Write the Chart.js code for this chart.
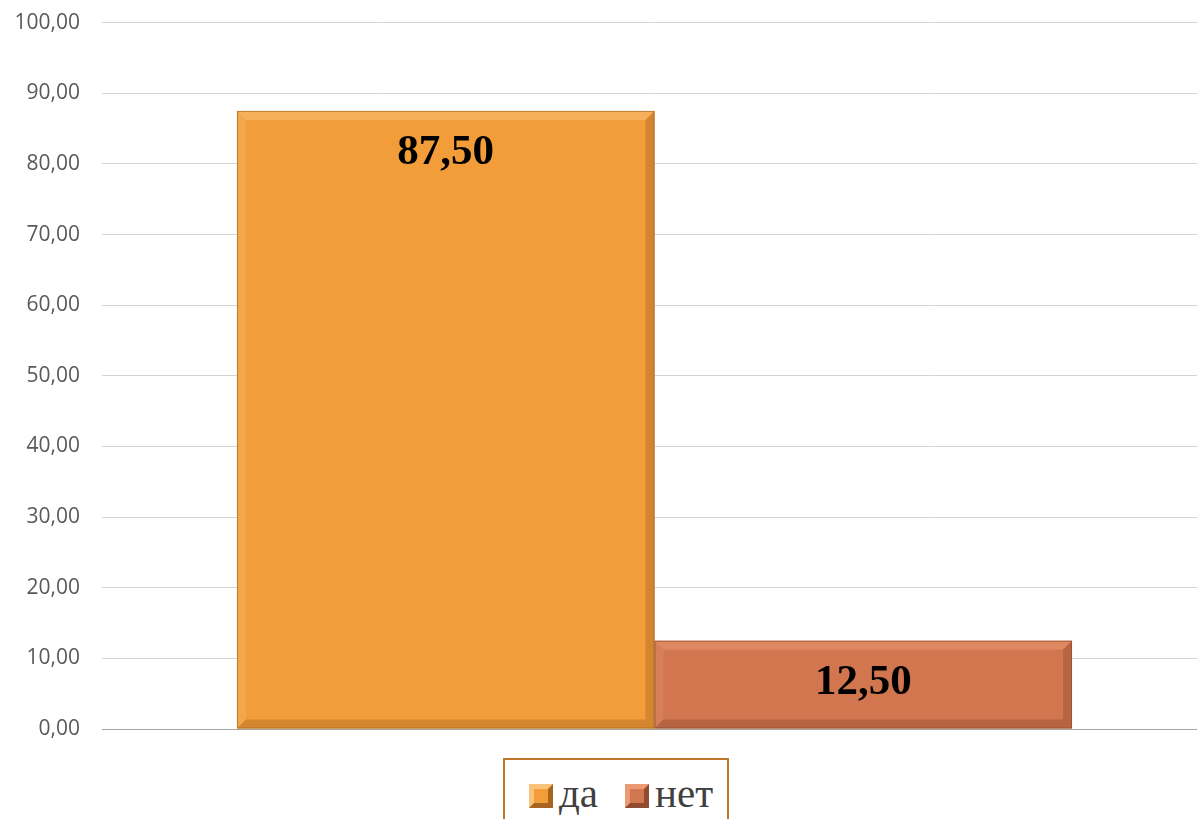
<!DOCTYPE html>
<html>
<head>
<meta charset="utf-8">
<script src="https://cdn.jsdelivr.net/npm/chart.js@4"></script>
<style>
  html, body { margin: 0; padding: 0; background: #fff; overflow: hidden; }
  #wrap { position: relative; width: 1197px; height: 819px; overflow: hidden; }
  #chart { position: absolute; left: 0; top: -12px; }
  #legend {
    position: absolute; left: 503px; top: 758px; width: 226px; height: 80px;
    border: 2px solid #c0772a; background: #fff; box-sizing: border-box;
    font-family: "Liberation Serif", serif; font-size: 41px; color: #404040;
  }
  .item { position: absolute; top: 10px; line-height: 46px; white-space: nowrap; }
  .mark {
    display: inline-block; width: 14px; height: 14px; border: 5px solid;
    vertical-align: -1px; margin-right: 6px;
  }
</style>
</head>
<body>
<div id="wrap">
  <canvas id="chart" width="1207" height="831"></canvas>
  <div id="legend"></div>
</div>
<script>
const categories = [""];
const seriesNames = ["да", "нет"];
const seriesValues = [87.5, 12.5];
const yTicks = [0, 10, 20, 30, 40, 50, 60, 70, 80, 90, 100];

const fills = ["#f29d3a", "#d1764f"];
const lights = ["#f9c37a", "#eb9a74"];
const darks = ["#a8651f", "#8f4c30"];

const fmt = (v) => v.toFixed(2).replace(".", ",");

// bevel + value labels
const bevelPlugin = {
  id: "bevel",
  afterDatasetsDraw(chart) {
    const ctx = chart.ctx;
    chart.data.datasets.forEach((ds, i) => {
      chart.getDatasetMeta(i).data.forEach((bar, j) => {
        const l = bar.x - bar.width / 2, r = bar.x + bar.width / 2;
        const t = bar.y, b = bar.base, s = 9;
        ctx.save();
        ctx.globalAlpha = 0.5;
        ctx.fillStyle = lights[i];
        ctx.beginPath();
        ctx.moveTo(l, t); ctx.lineTo(r, t); ctx.lineTo(r - s, t + s); ctx.lineTo(l + s, t + s);
        ctx.fill();
        ctx.globalAlpha = 0.25;
        ctx.beginPath();
        ctx.moveTo(l, t); ctx.lineTo(l + s, t + s); ctx.lineTo(l + s, b - s); ctx.lineTo(l, b);
        ctx.fill();
        ctx.globalAlpha = 0.4;
        ctx.fillStyle = darks[i];
        ctx.beginPath();
        ctx.moveTo(r, t); ctx.lineTo(r, b); ctx.lineTo(r - s, b - s); ctx.lineTo(r - s, t + s);
        ctx.fill();
        ctx.beginPath();
        ctx.moveTo(l, b); ctx.lineTo(r, b); ctx.lineTo(r - s, b - s); ctx.lineTo(l + s, b - s);
        ctx.fill();
        ctx.globalAlpha = 0.7;
        ctx.strokeStyle = darks[i];
        ctx.lineWidth = 1;
        ctx.strokeRect(l + 0.5, t + 0.5, r - l - 1, b - t - 1);
        ctx.restore();

        ctx.save();
        ctx.fillStyle = "#000";
        ctx.font = "bold 43px 'Liberation Serif', serif";
        ctx.textAlign = "center";
        ctx.textBaseline = "alphabetic";
        ctx.fillText(fmt(ds.data[j]), bar.x, t + 53);
        ctx.restore();
      });
    });
  }
};

const datasets = seriesNames.map((name, i) => ({
  label: name,
  data: [seriesValues[i]],
  backgroundColor: fills[i],
  borderWidth: 0,
  barPercentage: 1,
  categoryPercentage: 0.7557
}));

new Chart(document.getElementById("chart"), {
  type: "bar",
  data: { labels: categories, datasets },
  plugins: [bevelPlugin],
  options: {
    responsive: false,
    animation: false,
    layout: { padding: { top: 0, right: 0, bottom: 90, left: 0 } },
    plugins: { legend: { display: false }, tooltip: { enabled: false } },
    scales: {
      x: {
        ticks: { display: false },
        grid: { display: false, drawTicks: false },
        border: { color: "#a6a6a6", width: 1 },
        afterFit(scale) { scale.height = 0; }
      },
      y: {
        min: 0, max: 100,
        afterBuildTicks(scale) { scale.ticks = yTicks.map((v) => ({ value: v })); },
        afterFit(scale) { scale.width = 102; },
        ticks: {
          padding: 22,
          color: "#595959",
          font: { family: "'Open Sans', sans-serif", size: 21 },
          callback: (v) => fmt(v)
        },
        grid: { color: (c) => (c.tick && c.tick.value === 0 ? "#a6a6a6" : "#d4d4d4"), drawTicks: false },
        border: { display: false }
      }
    }
  }
});

// legend
const legend = document.getElementById("legend");
const lefts = [24, 120];
seriesNames.forEach((name, i) => {
  const item = document.createElement("div");
  item.className = "item";
  item.style.left = lefts[i] + "px";
  const m = document.createElement("span");
  m.className = "mark";
  m.style.background = fills[i];
  m.style.borderColor = `${lights[i]} ${darks[i]} ${darks[i]} ${lights[i]}`;
  item.appendChild(m);
  item.appendChild(document.createTextNode(name));
  legend.appendChild(item);
});
</script>
</body>
</html>
